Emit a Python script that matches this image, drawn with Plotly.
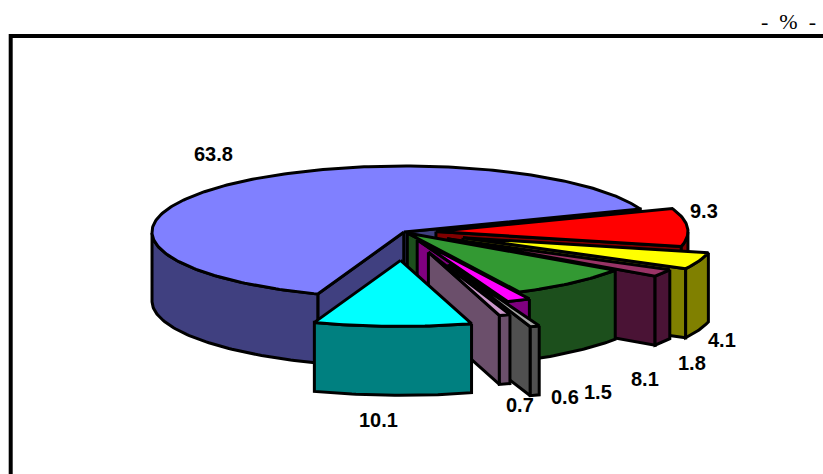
import numpy as np
import plotly.graph_objects as go

# Data (clockwise, starting with the large slice)
labels = ["63.8", "9.3", "4.1", "1.8", "8.1", "1.5", "0.6", "0.7", "10.1"]
values = [63.8, 9.3, 4.1, 1.8, 8.1, 1.5, 0.6, 0.7, 10.1]
explode = [0.0, 0.127, 0.25, 0.2, 0.02, 0.13, 0.52, 0.32, 0.43]
top_colors = ["#8080FF", "#FF0000", "#FFFF00", "#993366", "#339933", "#FF00FF", "#A6A6A6", "#CC99CC", "#00FFFF"]
side_colors = ["#404080", "#800000", "#808000", "#4A1335", "#1C4F1C", "#800080", "#505050", "#6B4F6B", "#008080"]
label_px = [(213, 154), (704, 211), (722, 340), (692, 363), (645, 379), (598, 392), (565, 397), (520, 405), (378, 420)]

W, H = 823, 474
CX, CY, RX, RY, DEPTH = 404, 232, 252, 66, 69
START_DEG = 110


def to_x(u):
    return CX + RX * np.asarray(u, float)


def to_y(v):
    return CY + RY * np.asarray(v, float)


fig = go.Figure()


def poly(xs, ys, color):
    xs = np.append(xs, xs[0])
    ys = np.append(ys, ys[0])
    fig.add_trace(go.Scatter(x=xs, y=ys, mode="lines", fill="toself", fillcolor=color,
                             line=dict(color="#000000", width=3), hoverinfo="skip", showlegend=False))


theta = START_DEG + 360 * np.concatenate([[0], np.cumsum(values)]) / np.sum(values)
for i in range(len(values)):
    a, b = np.radians(theta[i]), np.radians(theta[i + 1])
    mid = (a + b) / 2
    ox, oy = explode[i] * np.cos(mid), explode[i] * np.sin(mid)
    ts = np.linspace(a, b, max(4, int((b - a) * 60)))
    rimx, rimy = to_x(ox + np.cos(ts)), to_y(oy + np.sin(ts))
    ax, ay = to_x(ox), to_y(oy)
    # radial walls, only when they face the viewer
    if np.cos(a) < 0:
        ex, ey = to_x(ox + np.cos(a)), to_y(oy + np.sin(a))
        poly(np.array([ax, ex, ex, ax]), np.array([ay, ey, ey + DEPTH, ay + DEPTH]), side_colors[i])
    if np.cos(b) > 0:
        ex, ey = to_x(ox + np.cos(b)), to_y(oy + np.sin(b))
        poly(np.array([ax, ex, ex, ax]), np.array([ay, ey, ey + DEPTH, ay + DEPTH]), side_colors[i])
    # outer wall, front-facing part
    mask = np.sin(ts) >= 0
    if mask.sum() >= 2:
        poly(np.concatenate([rimx[mask], rimx[mask][::-1]]),
             np.concatenate([rimy[mask], rimy[mask][::-1] + DEPTH]), side_colors[i])
    # top face
    poly(np.concatenate([[ax], rimx]), np.concatenate([[ay], rimy]), top_colors[i])

annotations = [dict(x=x, y=y, text=t, showarrow=False, xanchor="center", yanchor="middle",
                    font=dict(family="Liberation Sans", size=20, color="#000000"))
               for t, (x, y) in zip(["<b>%s</b>" % l for l in labels], label_px)]
annotations.append(dict(x=788.5, y=21, text="-\u00a0\u00a0%\u00a0\u00a0-", showarrow=False,
                        xanchor="center", yanchor="middle",
                        font=dict(family="Liberation Serif", size=22, color="#000000")))

fig.update_layout(
    width=W, height=H, margin=dict(l=0, r=0, t=0, b=0),
    paper_bgcolor="white", plot_bgcolor="white", showlegend=False,
    xaxis=dict(range=[0, W], visible=False, fixedrange=True),
    yaxis=dict(range=[H, 0], visible=False, fixedrange=True),
    annotations=annotations,
    shapes=[dict(type="rect", xref="x", yref="y", x0=10.7, y0=36, x1=W + 10, y1=H + 10,
                 line=dict(color="#000000", width=4), layer="below")],
)
fig.write_html("out.html", config={"displayModeBar": False},
               post_script="document.body.style.margin='0';")
